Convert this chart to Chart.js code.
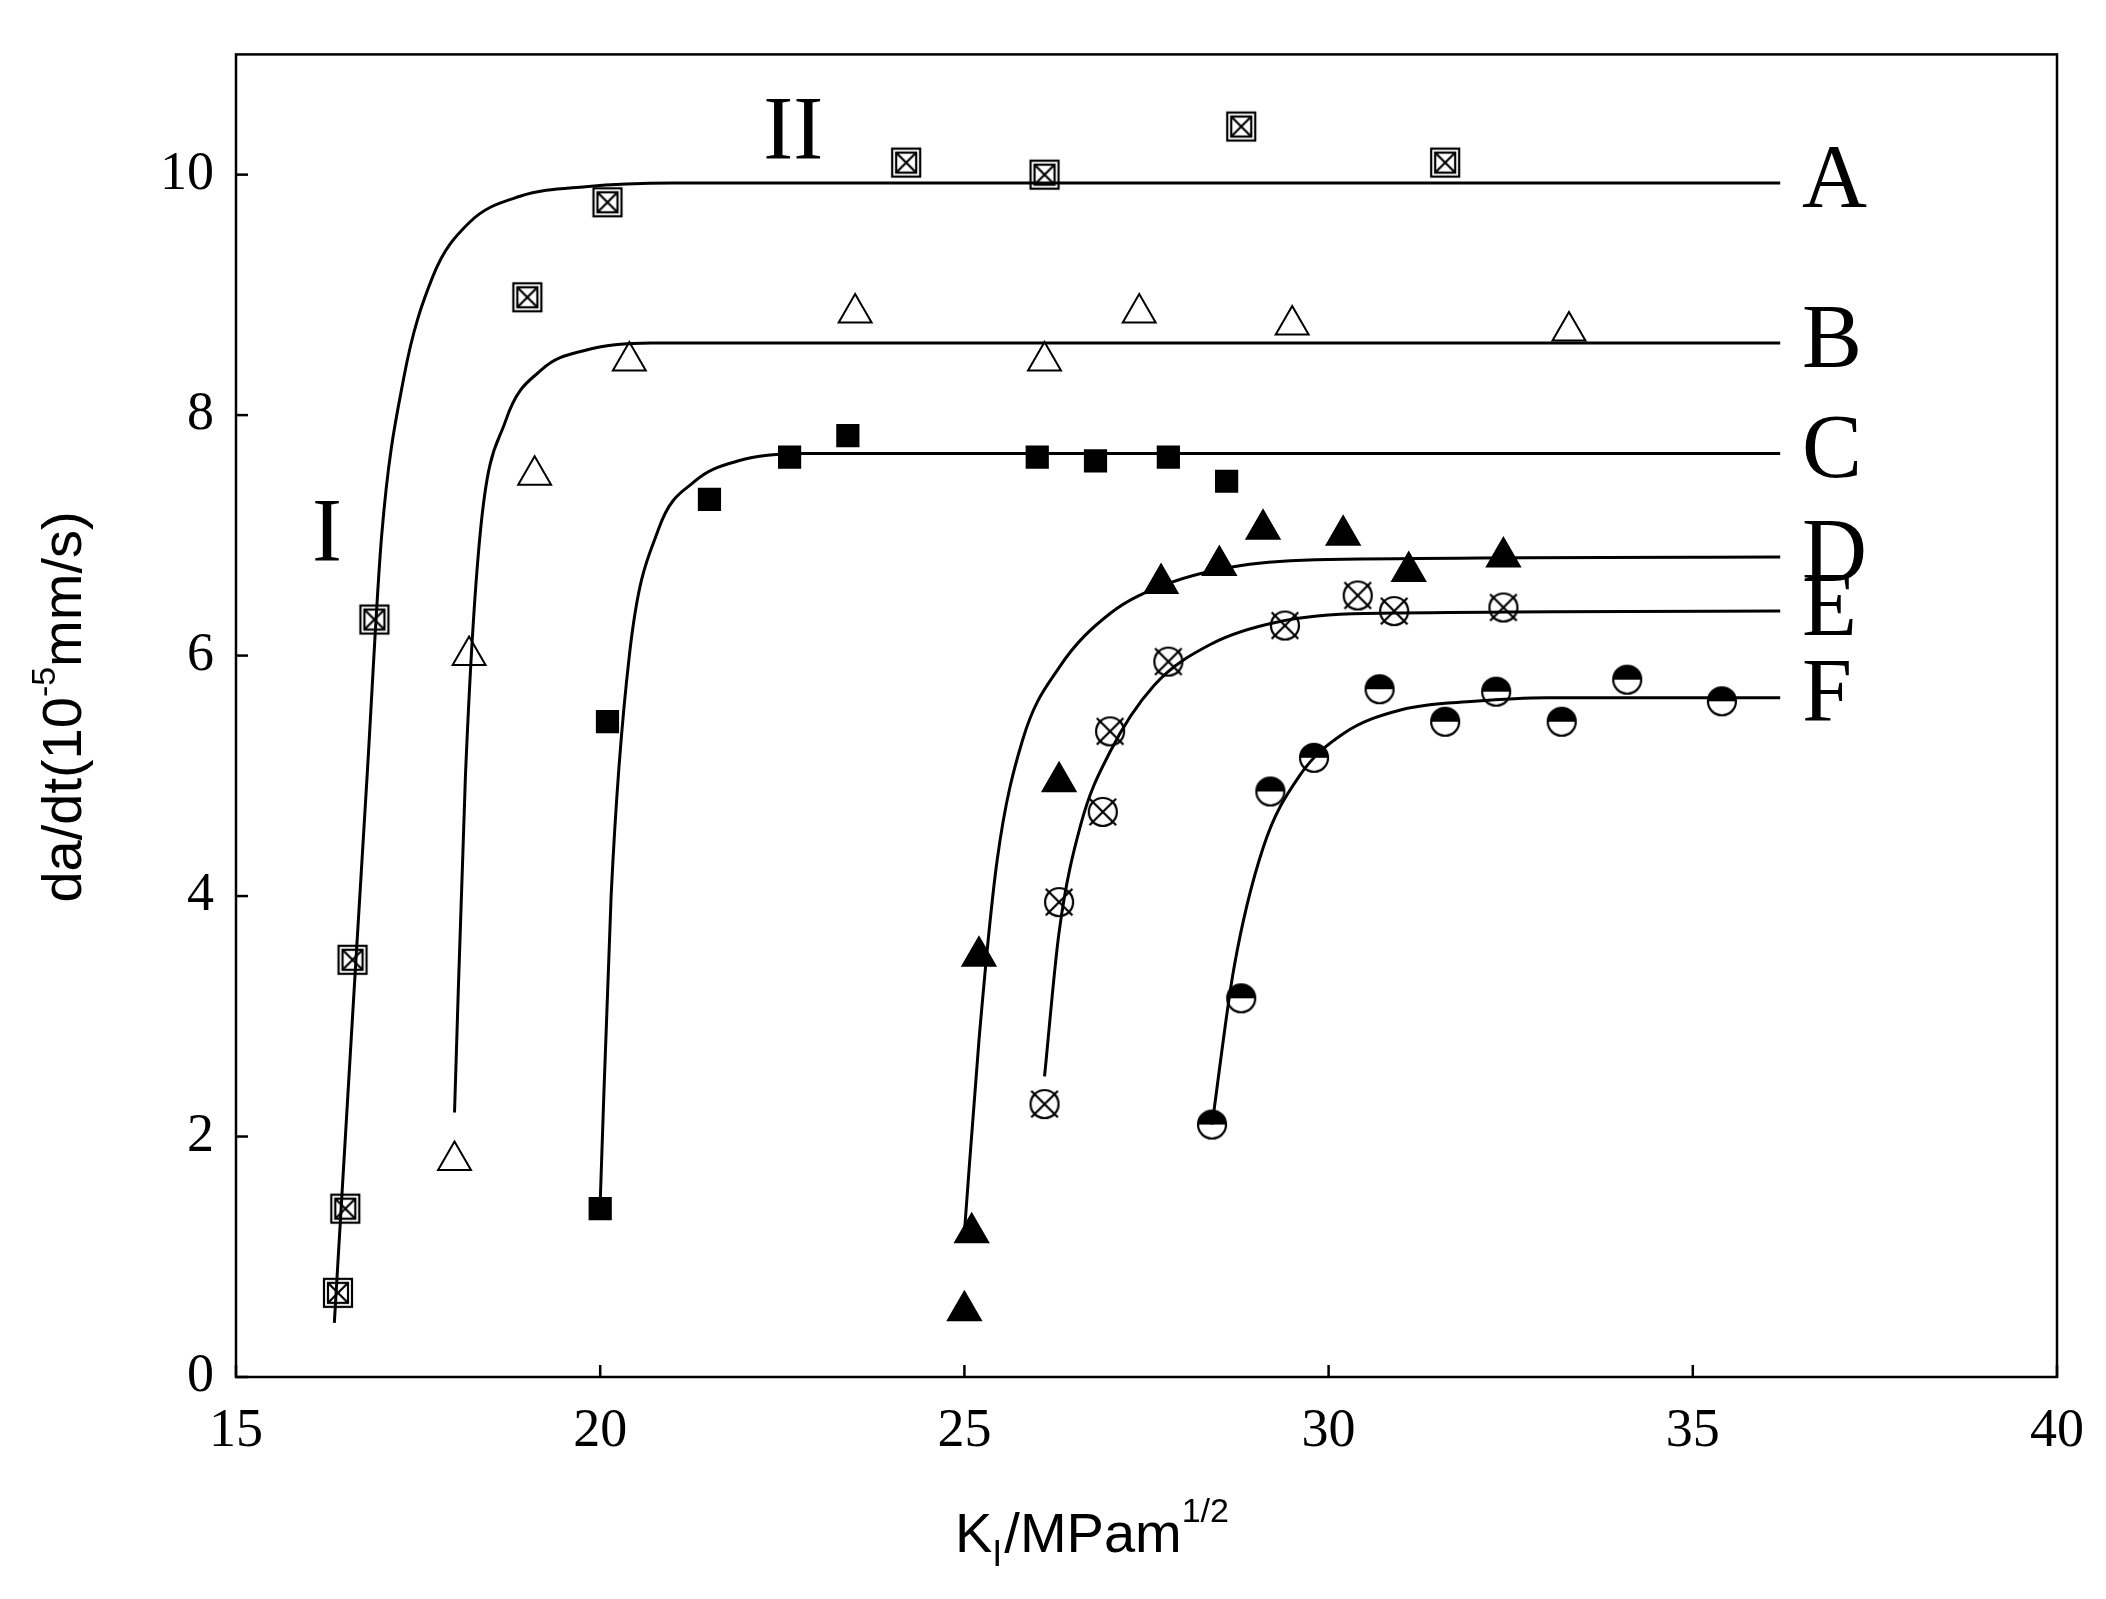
<!DOCTYPE html>
<html>
<head>
<meta charset="utf-8">
<script src="https://cdn.jsdelivr.net/npm/chart.js@4"></script>
<style>
  html, body { margin: 0; padding: 0; background: #fff; }
  #wrap { width: 2106px; height: 1599px; }
</style>
</head>
<body>
<div id="wrap"><canvas id="chart"></canvas></div>
<script>
// measured points (K_I, da/dt)
const seriesA = [[16.4,0.7],[16.5,1.4],[16.6,3.47],[16.9,6.3],[19.0,8.98],[20.1,9.77],[24.2,10.1],[26.1,10.0],[28.8,10.4],[31.6,10.1]];
const seriesB = [[18.0,1.8],[18.2,6.0],[19.1,7.5],[20.4,8.45],[23.5,8.85],[26.1,8.45],[27.4,8.85],[29.5,8.75],[33.3,8.7]];
const seriesC = [[20.0,1.4],[20.1,5.45],[21.5,7.3],[22.6,7.65],[23.4,7.83],[26.0,7.65],[26.8,7.62],[27.8,7.65],[28.6,7.45]];
const seriesD = [[25.0,0.55],[25.1,1.2],[25.2,3.5],[26.3,4.95],[27.7,6.6],[28.5,6.75],[29.1,7.05],[30.2,7.0],[31.1,6.7],[32.4,6.82]];
const seriesE = [[26.1,2.27],[26.3,3.95],[26.9,4.7],[27.0,5.37],[27.8,5.95],[29.4,6.25],[30.4,6.5],[30.9,6.37],[32.4,6.4]];
const seriesF = [[28.4,2.1],[28.8,3.15],[29.2,4.87],[29.8,5.15],[30.7,5.72],[31.6,5.45],[32.3,5.7],[33.2,5.45],[34.1,5.8],[35.4,5.62]];

// fitted curves
const curveA = [[16.35,0.45],[16.6,3],[16.8,5],[17.0,7],[17.3,8.3],[17.7,9.15],[18.2,9.6],[18.9,9.82],[19.8,9.9],[21.0,9.93],[36.2,9.93]];
const curveB = [[18.0,2.2],[18.15,5],[18.35,7],[18.7,7.95],[19.2,8.38],[19.8,8.54],[20.7,8.6],[36.2,8.6]];
const curveC = [[20.0,1.45],[20.15,4],[20.4,6],[20.8,7.05],[21.3,7.45],[21.9,7.62],[22.8,7.68],[36.2,7.68]];
const curveD = [[25.0,1.2],[25.2,2.8],[25.45,4.3],[25.8,5.3],[26.3,5.9],[27.0,6.35],[27.8,6.6],[28.8,6.75],[30.0,6.8],[36.2,6.82]];
const curveE = [[26.1,2.5],[26.3,3.7],[26.6,4.6],[27.0,5.2],[27.6,5.75],[28.4,6.1],[29.3,6.28],[30.5,6.35],[36.2,6.37]];
const curveF = [[28.4,2.1],[28.7,3.4],[29.1,4.4],[29.6,5.0],[30.2,5.35],[31.0,5.55],[32.0,5.62],[33.0,5.65],[36.2,5.65]];

const curveLabels = ['A', 'B', 'C', 'D', 'E', 'F'];
const labelY = [9.93, 8.6, 7.68, 6.82, 6.37, 5.65];
const regionLabels = [['I', 16.25, 6.98], ['II', 22.65, 10.33]];

const xTicks = [15, 20, 25, 30, 35, 40];
const yTicks = [0, 2, 4, 6, 8, 10];

const toXY = arr => arr.map(p => ({ x: p[0], y: p[1] }));

// marker images
function marker(kind) {
    const s = 36, c = document.createElement('canvas');
    c.width = s; c.height = s;
    const g = c.getContext('2d');
    g.strokeStyle = '#000'; g.fillStyle = '#000'; g.lineWidth = 2.2;
    const m = s / 2, r = 14;
    if (kind === 'boxx') {
        g.fillStyle = '#fff';
        g.fillRect(m - r, m - r, 2 * r, 2 * r);
        g.strokeRect(m - r, m - r, 2 * r, 2 * r);
        g.strokeRect(m - r + 4, m - r + 4, 2 * r - 8, 2 * r - 8);
        g.beginPath();
        g.moveTo(m - r + 4, m - r + 4); g.lineTo(m + r - 4, m + r - 4);
        g.moveTo(m + r - 4, m - r + 4); g.lineTo(m - r + 4, m + r - 4);
        g.stroke();
    } else if (kind === 'circx') {
        g.fillStyle = '#fff';
        g.beginPath(); g.arc(m, m, r, 0, Math.PI * 2); g.fill(); g.stroke();
        const d = r * 0.95;
        g.beginPath();
        g.moveTo(m - d, m - d); g.lineTo(m + d, m + d);
        g.moveTo(m + d, m - d); g.lineTo(m - d, m + d);
        g.stroke();
    } else if (kind === 'half') {
        g.fillStyle = '#fff';
        g.beginPath(); g.arc(m, m, r, 0, Math.PI * 2); g.fill();
        g.fillStyle = '#000';
        g.beginPath(); g.arc(m, m, r, Math.PI, 0); g.closePath(); g.fill();
        g.beginPath(); g.arc(m, m, r, 0, Math.PI * 2); g.stroke();
    }
    return c;
}

const pts = (data, style, fill, radius) => ({
    type: 'scatter', data: toXY(data), pointStyle: style, pointRadius: radius,
    backgroundColor: fill, borderColor: '#000', borderWidth: 2, showLine: false
});
const line = data => ({
    type: 'line', data: toXY(data), borderColor: '#000', borderWidth: 3,
    pointRadius: 0, cubicInterpolationMode: 'monotone', fill: false
});

const frame = {
    id: 'frame',
    afterDraw(chart) {
        const { ctx, chartArea: a, scales: { x, y } } = chart;
        ctx.save();
        ctx.strokeStyle = '#000'; ctx.lineWidth = 2.5;
        ctx.strokeRect(a.left, a.top, a.right - a.left, a.bottom - a.top);
        // inward ticks
        xTicks.forEach(v => {
            const px = x.getPixelForValue(v);
            ctx.beginPath(); ctx.moveTo(px, a.bottom); ctx.lineTo(px, a.bottom - 12); ctx.stroke();
        });
        yTicks.forEach(v => {
            const py = y.getPixelForValue(v);
            ctx.beginPath(); ctx.moveTo(a.left, py); ctx.lineTo(a.left + 12, py); ctx.stroke();
        });
        ctx.fillStyle = '#000';
        ctx.font = '90px "Liberation Serif"';
        ctx.textBaseline = 'middle';
        ctx.textAlign = 'left';
        curveLabels.forEach((t, i) => {
            ctx.fillText(t, x.getPixelForValue(36.5), y.getPixelForValue(labelY[i]));
        });
        ctx.textAlign = 'center';
        regionLabels.forEach(r => ctx.fillText(r[0], x.getPixelForValue(r[1]), y.getPixelForValue(r[2])));

        // x title: K_I/MPam^1/2
        ctx.font = '56px "Liberation Sans"';
        ctx.textAlign = 'left';
        ctx.textBaseline = 'alphabetic';
        const bx = 955, by = 1552;
        ctx.fillText('K', bx, by);
        let w = ctx.measureText('K').width;
        ctx.font = '36px "Liberation Sans"';
        ctx.fillText('I', bx + w, by + 14);
        w += ctx.measureText('I').width + 2;
        ctx.font = '56px "Liberation Sans"';
        ctx.fillText('/MPam', bx + w, by);
        w += ctx.measureText('/MPam').width;
        ctx.font = '34px "Liberation Sans"';
        ctx.fillText('1/2', bx + w, by - 30);

        // y title
        ctx.translate(62, 707);
        ctx.rotate(-Math.PI / 2);
        const parts = [['da/dt(10', 56, 0], ['-5', 34, -26], ['mm/s)', 56, 0]];
        let total = 0;
        parts.forEach(p => { ctx.font = p[1] + 'px "Liberation Sans"'; total += ctx.measureText(p[0]).width; });
        let cx = -total / 2;
        parts.forEach(p => {
            ctx.font = p[1] + 'px "Liberation Sans"';
            ctx.fillText(p[0], cx, 19 + p[2]);
            cx += ctx.measureText(p[0]).width;
        });
        ctx.restore();
    }
};

new Chart(document.getElementById('chart'), {
    data: {
        datasets: [
            line(curveA), line(curveB), line(curveC), line(curveD), line(curveE), line(curveF),
            pts(seriesA, marker('boxx'), '#fff', 15),
            pts(seriesB, 'triangle', '#fff', 19),
            pts(seriesC, 'rect', '#000', 15),
            pts(seriesD, 'triangle', '#000', 19),
            pts(seriesE, marker('circx'), '#fff', 15),
            pts(seriesF, marker('half'), '#fff', 15)
        ]
    },
    options: {
        responsive: true,
        maintainAspectRatio: false,
        animation: false,
        layout: { padding: { top: 10, right: 40, left: 0, bottom: 0 } },
        plugins: { legend: { display: false }, tooltip: { enabled: false } },
        scales: {
            x: {
                type: 'linear', min: 15, max: 40,
                afterFit: s => { s.height = 222; },
                afterBuildTicks: s => { s.ticks = xTicks.map(v => ({ value: v })); },
                grid: { display: false, drawTicks: false },
                border: { display: false },
                ticks: { color: '#000', padding: 22, font: { family: 'Liberation Serif', size: 54 } }
            },
            y: {
                type: 'linear', min: 0, max: 11,
                afterFit: s => { s.width = 236; },
                afterBuildTicks: s => { s.ticks = yTicks.map(v => ({ value: v })); },
                grid: { display: false, drawTicks: false },
                border: { display: false },
                ticks: { color: '#000', padding: 22, font: { family: 'Liberation Serif', size: 54 } }
            }
        }
    },
    plugins: [frame]
});
</script>
</body>
</html>
